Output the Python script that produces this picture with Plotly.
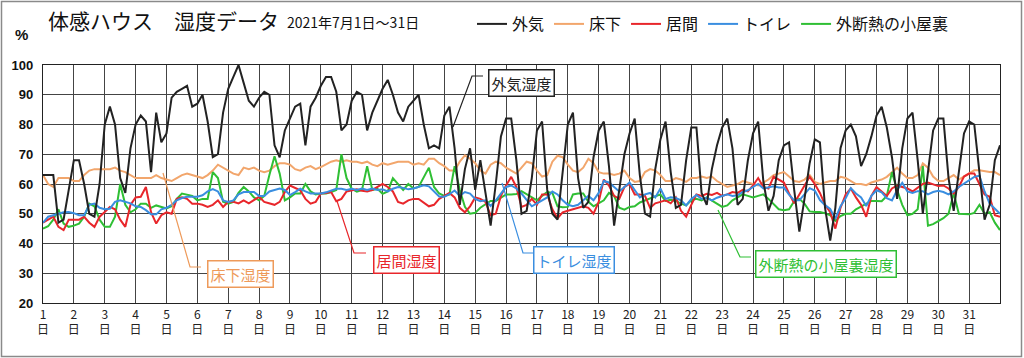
import pandas as pd
import plotly.graph_objects as go

# ---------------- data (4-hourly readings, 2021-07-01 00:00 .. 2021-08-01 00:00) ----------------
outdoor = [
    63, 63, 63, 47, 48, 58,
    68, 68, 60, 50, 49, 60,
    80, 86, 80, 62, 57, 72,
    80, 83, 81, 64, 84, 74,
    77, 89, 91, 92, 93, 86,
    87, 90, 81, 69, 70, 84,
    92, 96, 100, 94, 88, 86,
    89, 91, 90, 73, 69, 78,
    82, 86, 87, 73, 86, 89,
    93, 96, 96, 91, 78, 80,
    88, 91, 90, 78, 84, 88,
    92, 95, 90, 84, 81, 86,
    88, 90, 80, 72, 73, 72,
    83, 86, 72, 53, 65, 72,
    58, 68, 57, 46, 60, 76,
    82, 82, 68, 50, 51, 62,
    78, 81, 58, 50, 48, 63,
    80, 84, 62, 52, 54, 69,
    78, 81, 66, 46, 58, 70,
    77, 82, 63, 50, 49, 65,
    75, 81, 64, 52, 53, 68,
    79, 79, 57, 53, 65, 73,
    79, 82, 72, 53, 55, 68,
    77, 81, 61, 51, 56, 68,
    73, 74, 58, 44, 55, 67,
    75, 74, 52, 41, 52, 72,
    78, 80, 76, 66, 70, 76,
    83, 86, 79, 69, 55, 72,
    82, 84, 68, 50, 64, 78,
    82, 82, 62, 51, 64, 77,
    81, 80, 64, 48, 53, 68,
    73,
]
underfloor = [
    63, 60, 59, 62, 62, 62,
    61, 61, 63, 64.5, 65, 65,
    65, 65, 65.5, 64.5, 64, 63,
    62, 62, 62, 62, 63, 62,
    61.5, 61, 62, 63, 63.5, 63,
    62.5, 62, 63, 64.5, 66.5, 65.5,
    64.5, 63.5, 63, 65.5, 65, 65.5,
    64.5, 64, 64.5, 66, 67, 67,
    66.5, 65, 64.5, 65.5, 66, 65,
    65.7, 66.5, 67.5, 68, 67.5, 68,
    67.5, 67.5, 67, 67.5, 66.5, 66,
    67, 66.5, 67, 67.5, 67.5, 67.5,
    66.5, 67, 66.5, 68.5, 68.5, 67,
    66, 64.5, 64.5, 67.5, 69.6, 68.5,
    67, 64.5, 63.5, 66.5, 67.5, 67,
    65.5, 64.5, 63.5, 65.5, 67.5, 67,
    64.5, 62.5, 63, 67.5, 69.5, 69,
    66.5, 64.5, 64, 65.5, 68.5, 67,
    64, 63.5, 63.5, 63, 63.5, 64.5,
    62, 60.7, 61, 64, 65, 64.5,
    63, 61, 61, 62, 61.5, 60.7,
    62, 62, 62.5, 62, 62.5, 61,
    60, 59, 59.5, 60, 61, 60.5,
    60, 59.5, 60.5, 61.5, 63, 63.5,
    64, 62.5, 61, 60.7, 61.5, 63,
    60.7, 60, 60.5, 61, 61, 62.4,
    62, 61, 60, 60, 59.6, 60.5,
    61, 61.5, 62.4, 64, 65.5, 63.5,
    62, 62, 63, 66.9, 65.5, 62.5,
    61, 61, 62, 63, 61.5, 62.5,
    63.5, 64.6, 64.6, 64.3, 64, 64,
    63,
]
living = [
    47, 48, 49, 45.6, 44.5, 48,
    48, 48, 49, 47, 45.6, 49,
    50.6, 52.3, 51.5, 48, 45.6, 53,
    55.5, 55.7, 59, 50.5, 46.7, 49.5,
    50.5, 50, 55, 55.5, 55, 53.4,
    53.4, 53, 52.3, 53, 54.5, 52.3,
    54, 54, 53.5, 54.5, 53.5, 54.5,
    55.7, 54, 53.5, 53, 54, 57.3,
    59.5, 58.8, 57.9, 55, 53.4, 54,
    56.8, 57, 57.3, 54.2, 55, 57.5,
    57.9, 58.2, 57.7, 57.5, 58, 59,
    60, 59, 57.5, 54, 53.4, 54.5,
    55, 55, 53.6, 52.5, 53, 55,
    56, 57, 55.5, 52, 50.5, 52.5,
    55.5, 55, 54, 49.5, 50, 56,
    59.5, 62.4, 59, 52.3, 53, 55,
    53, 56.5, 56.5, 51.5, 48.5, 50.5,
    51, 51.5, 52, 52.5, 52, 50,
    54, 61.5, 59.5, 56, 55, 59,
    60, 56.5, 56.5, 56, 52, 53.5,
    54, 54.5, 53.5, 55.5, 51, 49,
    53, 56.5, 56, 56.7, 56.3, 57,
    56, 56.5, 57.3, 57, 58, 57.5,
    59.5, 62, 59, 58.5, 62.5, 61.5,
    60.5, 56.8, 53.5, 56.5, 59.5, 62.4,
    60, 57, 53, 50.5, 45, 52,
    56.5, 58.5, 55.5, 53, 49, 56,
    59, 57.5, 56, 58.5, 59.5, 59,
    58.5, 57.5, 58.8, 60, 60.5, 60,
    59.3, 59.5, 58.5, 56.8, 59, 62.5,
    63.5, 63.5, 60, 56.5, 55.7, 49.5,
    49,
]
toilet = [
    47, 49, 49.5, 50, 50.5, 50.6,
    50.2, 49.5, 49.5, 53, 53.4, 52,
    51.5, 51.7, 54, 54.5, 54, 53.5,
    52.5, 52.3, 51.2, 49.8, 49.8, 51.5,
    52, 53, 54.5, 55.3, 55.7, 55.7,
    55.7, 56.2, 57.5, 58.3, 57.5, 54.5,
    54, 54.5, 56.5, 57.3, 57.3, 57.3,
    56, 56, 57.5, 58, 58.5, 58,
    56.3, 57.3, 58.4, 57.5, 56.8, 56.8,
    56.8, 57.2, 57.8, 58.4, 58.4, 58,
    58.4, 58, 58.5, 58, 58.5, 58,
    58.2, 57.5, 58.4, 59, 58.7, 58.2,
    58.5, 59, 59.6, 59.2, 57.5, 55.8,
    55.7, 56.6, 57.8, 56, 57.3, 56.8,
    55, 54.2, 54.5, 52.6, 54.5, 56.8,
    59, 59.5, 58.5, 56.8, 54.5, 52.5,
    53.5, 54.5, 55.5, 57.5, 56.5, 54.5,
    53, 52.5, 53, 54.5, 56, 54.5,
    57, 61, 60.5, 59, 57.5, 59,
    60.5, 58, 55.5, 56.5, 57, 55.5,
    58.5, 55, 55.5, 55.3, 54.5, 52.8,
    55, 56.3, 55, 55.4, 54.5, 55.4,
    56, 56.5, 56, 56.2, 57.3, 57.9,
    59, 60, 58.5, 58.8, 59.2, 58.8,
    58.8, 56.4, 54.5, 54.5, 56.4, 58.6,
    57.8, 54.6, 52.9, 51.6, 48.3, 52.5,
    55.2, 58.6, 56.8, 55.5, 52.6, 56,
    57.9, 57.2, 55.2, 54.5, 58, 60.4,
    57.5, 57, 57.6, 57.6, 56.5, 57.3,
    57.7, 57.3, 56.5, 57.5, 59, 60.2,
    61.2, 62.4, 62.8, 57.5, 53.4, 51.8,
    50,
]
attic = [
    45, 45.8, 48, 51.5, 46.7, 45.6,
    46, 46.7, 49, 53.4, 52.5, 48,
    45.6, 45.6, 49, 60, 53, 50.5,
    51.5, 53.4, 53.4, 52, 52.8, 52.2,
    51.8, 52.5, 55, 56.8, 56.5, 56,
    54.5, 55, 55, 64, 62, 54,
    53.4, 54, 57, 59, 57.5, 55.5,
    54.5, 56, 63, 69.3, 63.5, 54.5,
    55.5, 56.8, 56.8, 60, 57.5, 56.5,
    56.8, 56.8, 57.3, 58, 70, 62,
    58.4, 57.4, 58, 66, 58, 58.4,
    56.7, 57.5, 62, 60, 58, 60,
    58.5, 59, 62, 65.5, 59, 56.8,
    56, 56.5, 66, 58, 52.3, 50,
    50.3, 52, 53.2, 54.3, 54.3, 55.3,
    56.5, 56.5, 56.6, 57.6, 56.5, 55.5,
    54.5, 56, 57.3, 57, 52.5, 52.2,
    52.3, 56.5, 56.8, 56.8, 54, 52.5,
    53.4, 54.5, 57, 56, 52, 51.4,
    52.3, 52.5, 53.8, 54.5, 55, 55.7,
    56.5, 54.3, 54.7, 54.3, 53.4, 52.8,
    54.5, 55, 54.5, 55.5, 54.5, 53.4,
    52.3, 52.8, 54.5, 55.5, 56.5, 56,
    55.5, 56, 56.5, 55, 53.4, 51.5,
    51.2, 51.5, 54.2, 55, 53.4, 50.8,
    50.6, 50.6, 50.2, 49.5, 47.6, 49.2,
    50, 50, 51.5, 52.5, 53.4, 54.3,
    54.3, 54.2, 56, 64, 58, 53,
    49.5, 50, 51.5, 66, 46, 46.5,
    47.5, 48.5, 50, 57, 50, 50,
    49.8, 50.3, 53, 50, 50.5, 47,
    44.5,
]

series_names = ["外気", "床下", "居間", "トイレ", "外断熱の小屋裏"]
series_colors = ["#222222", "#F2A66C", "#E8262B", "#3A8EE0", "#2FBF34"]
day_labels = [f"{d}<br>日" for d in range(1, 32)]
callout_texts = ["外気湿度", "床下湿度", "居間湿度", "トイレ湿度", "外断熱の小屋裏湿度"]

times = pd.date_range("2021-07-01 00:00", periods=len(outdoor), freq="4h")
day_ticks = pd.date_range("2021-07-01", periods=31, freq="D")

# ---------------- geometry helpers (pixel -> paper) ----------------
W, H = 1024, 358
L, R, T, B = 43, 1000, 65, 303


def px(x):
    return (x - L) / (R - L)


def py(y):
    return (B - y) / (B - T)


FONT = "Noto Sans CJK JP, Arial, sans-serif"

fig = go.Figure()
values = [outdoor, underfloor, living, toilet, attic]
draw_order = [1, 4, 2, 3, 0]
for i in draw_order:
    fig.add_trace(go.Scatter(
        x=times, y=values[i], mode="lines", name=series_names[i],
        line=dict(color=series_colors[i], width=2), legendrank=i + 1,
        hoverinfo="skip",
    ))

# callout boxes and leader lines
callout_pos = [(521, 83), (240, 274), (406, 260), (574, 260), (826, 264)]
leaders = [
    [(453, 127), (472, 76), (483, 76)],
    [(163, 173), (190, 267), (201, 267)],
    [(337, 201), (354, 253), (366, 253)],
    [(502, 183), (523, 253), (535, 253)],
    [(718, 210), (740, 257), (751, 257)],
]
callout_colors = ["#222222", "#EE9A5A", "#E8262B", "#3A8EE0", "#2FBF34"]
for (cx, cy), txt, col, pts in zip(callout_pos, callout_texts, callout_colors, leaders):
    path = "M " + " L ".join(f"{px(x):.5f},{py(y):.5f}" for x, y in pts)
    fig.add_shape(type="path", path=path, xref="paper", yref="paper",
                  line=dict(color=col, width=1.2))
    fig.add_annotation(x=px(cx), y=py(cy), xref="paper", yref="paper",
                       text=txt, showarrow=False,
                       font=dict(family=FONT, size=15, color=col),
                       bgcolor="white", bordercolor=col, borderwidth=1.5,
                       borderpad=2, xanchor="center", yanchor="middle")

# title texts
fig.add_annotation(x=px(46), y=py(20), xref="paper", yref="paper",
                   text="体感ハウス　湿度データ", showarrow=False,
                   font=dict(family=FONT, size=21, color="#111"),
                   xanchor="left", yanchor="middle")
fig.add_annotation(x=px(285), y=py(22), xref="paper", yref="paper",
                   text="2021年7月1日～31日", showarrow=False,
                   font=dict(family=FONT, size=14, color="#111"),
                   xanchor="left", yanchor="middle")
fig.add_annotation(x=px(21), y=py(34), xref="paper", yref="paper",
                   text="<b>%</b>", showarrow=False,
                   font=dict(family="Arial, Liberation Sans", size=15, color="#111"),
                   xanchor="center", yanchor="middle")

# outer frame
fig.add_shape(type="rect", xref="paper", yref="paper",
              x0=px(1.5), x1=px(1021.5), y0=py(356.5), y1=py(1.5),
              line=dict(color="#8a8a8a", width=1.5))

fig.update_layout(
    width=W, height=H,
    margin=dict(l=L, r=W - R, t=T, b=H - B, autoexpand=False),
    paper_bgcolor="white", plot_bgcolor="white",
    showlegend=True,
    legend=dict(orientation="h", x=px(472), y=py(7), xanchor="left", yanchor="top",
                font=dict(family=FONT, size=16, color="#111"),
                itemwidth=30, tracegroupgap=0, bgcolor="rgba(0,0,0,0)"),
)
fig.update_xaxes(
    range=[pd.Timestamp("2021-07-01"), pd.Timestamp("2021-08-01")],
    tickmode="array", tickvals=day_ticks, ticktext=day_labels,
    showgrid=True, gridcolor="#444", gridwidth=1,
    showline=True, linecolor="#222", linewidth=1.2, mirror=True,
    ticks="", tickfont=dict(family=FONT, size=12, color="#222"),
    zeroline=False,
)
fig.update_yaxes(
    range=[20, 100], tickmode="array", tickvals=list(range(20, 101, 10)),
    ticktext=[f"<b>{v}</b>" for v in range(20, 101, 10)],
    showgrid=True, gridcolor="#444", gridwidth=1,
    showline=True, linecolor="#222", linewidth=1.2, mirror=True,
    ticks="", ticklabelstandoff=6,
    tickfont=dict(family="Arial, Liberation Sans", size=13, color="#111"),
    zeroline=False,
)

fig.write_html(
    "out.html",
    config={"displayModeBar": False},
    post_script="document.body.style.margin='0';document.body.style.overflow='hidden';",
)
